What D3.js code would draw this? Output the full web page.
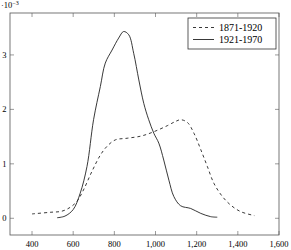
<!DOCTYPE html>
<html>
<head>
<meta charset="utf-8">
<script src="https://cdn.jsdelivr.net/npm/d3@7"></script>
<style>
  body { margin: 0; background: #fff; }
  svg text { font-family: "Liberation Serif", "DejaVu Serif", serif; fill: #000; }
</style>
</head>
<body>
<svg id="chart" width="291" height="250"></svg>
<script>
// series values (x in years-ish units, y in 1e-3)
const earlyX = [400, 488, 545, 585, 618, 650, 691, 732, 764, 805, 862, 930, 992, 1057, 1098, 1122, 1155, 1187, 1220, 1252, 1284, 1325, 1366, 1415, 1480];
const earlyY = [0.08, 0.11, 0.13, 0.20, 0.31, 0.52, 0.86, 1.16, 1.32, 1.44, 1.47, 1.51, 1.59, 1.70, 1.78, 1.81, 1.76, 1.56, 1.26, 0.95, 0.64, 0.40, 0.24, 0.12, 0.05];
const lateX = [522, 560, 600, 634, 667, 699, 732, 756, 789, 821, 845, 870, 894, 919, 943, 967, 992, 1016, 1040, 1065, 1089, 1122, 1171, 1220, 1268, 1300];
const lateY = [0.01, 0.04, 0.16, 0.46, 0.95, 1.81, 2.42, 2.85, 3.09, 3.31, 3.43, 3.37, 3.03, 2.54, 2.11, 1.81, 1.56, 1.38, 1.07, 0.70, 0.40, 0.23, 0.18, 0.09, 0.03, 0.02];
const seriesNames = ["1871-1920", "1921-1970"];
const xTicks = [400, 600, 800, 1000, 1200, 1400, 1600];
const yTicks = [0, 1, 2, 3];

const svg = d3.select("#chart");
const mLeft = 10, mRight = 279, mTop = 13, mBottom = 235;

const x = d3.scaleLinear().domain([293, 1600]).range([mLeft, mRight]);
const y = d3.scaleLinear().domain([-0.307, 3.77]).range([mBottom, mTop]);

const axisColor = "#555";
const tickLen = 4;

// frame
svg.append("rect")
  .attr("x", mLeft).attr("y", mTop)
  .attr("width", mRight - mLeft).attr("height", mBottom - mTop)
  .attr("fill", "none").attr("stroke", axisColor).attr("stroke-width", 0.8);

// x ticks (bottom + mirrored top)
const fmt = d3.format(",");
xTicks.forEach(t => {
  const px = x(t);
  svg.append("line").attr("x1", px).attr("x2", px).attr("y1", mBottom).attr("y2", mBottom - tickLen)
    .attr("stroke", axisColor).attr("stroke-width", 0.6);
  svg.append("line").attr("x1", px).attr("x2", px).attr("y1", mTop).attr("y2", mTop + tickLen)
    .attr("stroke", axisColor).attr("stroke-width", 0.6);
  svg.append("text").attr("x", px).attr("y", 247)
    .attr("text-anchor", "middle").attr("font-size", 8.5).text(fmt(t));
});

// y ticks (left + mirrored right)
yTicks.forEach(t => {
  const py = y(t);
  svg.append("line").attr("x1", mLeft).attr("x2", mLeft + tickLen).attr("y1", py).attr("y2", py)
    .attr("stroke", axisColor).attr("stroke-width", 0.6);
  svg.append("line").attr("x1", mRight).attr("x2", mRight - tickLen).attr("y1", py).attr("y2", py)
    .attr("stroke", axisColor).attr("stroke-width", 0.6);
  svg.append("text").attr("x", 6.5).attr("y", py + 3)
    .attr("text-anchor", "end").attr("font-size", 8.5).text(t);
});

// scale label
const sc = svg.append("text").attr("x", 1).attr("y", 8).attr("font-size", 8.5);
sc.append("tspan").text("·10");
sc.append("tspan").attr("font-size", 6).attr("dy", -3).text("−3");

// curves
const line = d3.line().x(d => x(d[0])).y(d => y(d[1])).curve(d3.curveCatmullRom);
const early = earlyX.map((v, i) => [v, earlyY[i]]);
const late = lateX.map((v, i) => [v, lateY[i]]);

svg.append("path").datum(early).attr("d", line)
  .attr("fill", "none").attr("stroke", "#222").attr("stroke-width", 0.9)
  .attr("stroke-dasharray", "3,3");
svg.append("path").datum(late).attr("d", line)
  .attr("fill", "none").attr("stroke", "#222").attr("stroke-width", 0.9);

// legend
const lg = svg.append("g");
lg.append("rect").attr("x", 188).attr("y", 18).attr("width", 88).attr("height", 31)
  .attr("fill", "#fff").attr("stroke", "#333").attr("stroke-width", 0.8);
seriesNames.forEach((name, i) => {
  const ly = 27.5 + i * 12;
  lg.append("line").attr("x1", 193).attr("x2", 214).attr("y1", ly).attr("y2", ly)
    .attr("stroke", "#222").attr("stroke-width", 0.9)
    .attr("stroke-dasharray", i === 0 ? "3,3" : null);
  lg.append("text").attr("x", 219).attr("y", ly + 3.5).attr("font-size", 10).text(name);
});
</script>
</body>
</html>
